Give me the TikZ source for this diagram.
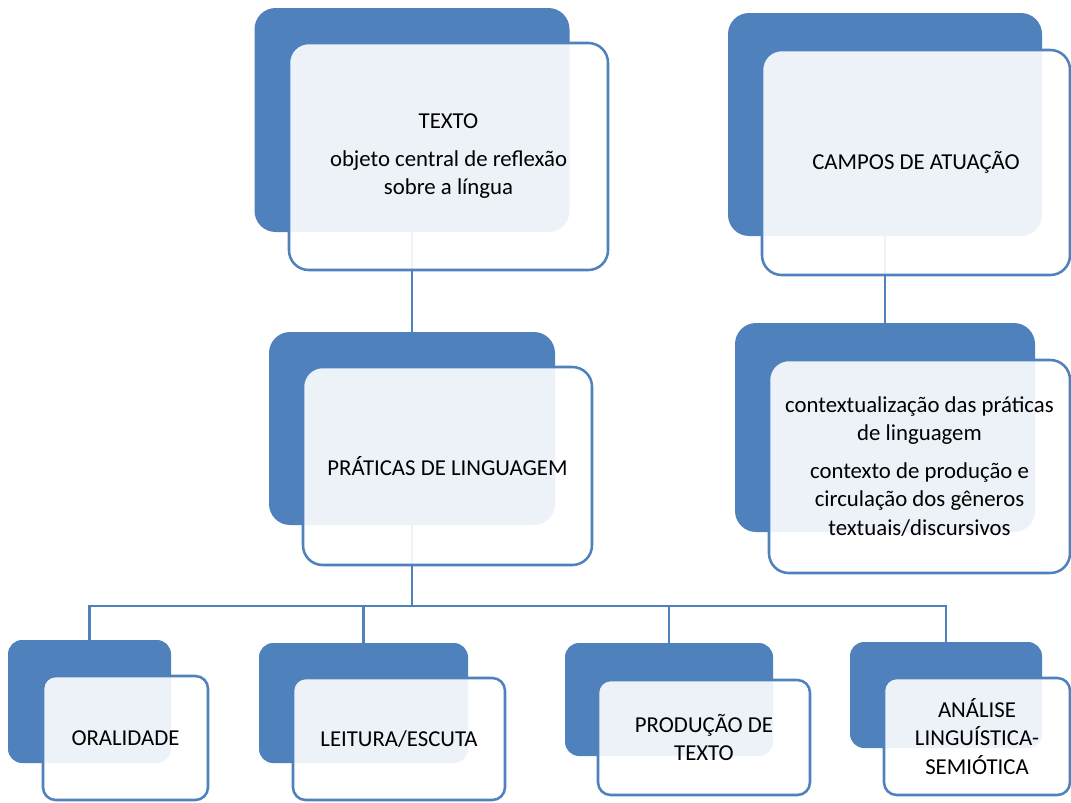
\documentclass[tikz,border=0pt]{standalone}
\usepackage{fontspec}
\setmainfont{Carlito}
\definecolor{azul}{HTML}{4F81BD}
\def\px{0.025cm}
\tikzset{
	fundo/.style={fill=azul, draw=none, rounded corners=15pt, inner sep=0pt, outer sep=0pt},
	frente/.style={fill=white, fill opacity=0.9, text opacity=1, draw=azul, line width=1.8pt, rounded corners=14pt, inner sep=0pt, outer sep=0pt, align=center, font=\fontsize{16.2}{20}\selectfont},
	liga/.style={draw=azul, line width=2pt}
}

\begin{document}
\begin{tikzpicture}[x=0.025cm, y=-0.025cm]
			%%%%% START %%%%%
			
			\useasboundingbox (0, 0) rectangle (1071, 802);
			
			\node[fundo, minimum width=315*\px, minimum height=224*\px] (textoF) at (412, 120) {};
			\node[fundo, minimum width=314*\px, minimum height=223*\px] (camposF) at (885, 124.5) {};
			\node[fundo, minimum width=286*\px, minimum height=193*\px] (praticasF) at (412, 428.5) {};
			\node[fundo, minimum width=300*\px, minimum height=209*\px] (contextoF) at (885, 427.5) {};
			
			\node[fundo, rounded corners=10pt, minimum width=163*\px, minimum height=123*\px] (oralF) at (89.5, 701.5) {};
			\node[fundo, rounded corners=10pt, minimum width=209*\px, minimum height=120*\px] (leituraF) at (363.5, 703) {};
			\node[fundo, rounded corners=10pt, minimum width=208*\px, minimum height=113*\px] (producaoF) at (669, 699.5) {};
			\node[fundo, rounded corners=10pt, minimum width=192*\px, minimum height=106*\px] (analiseF) at (946, 695) {};
			
			\coordinate (barra) at (412, 606);
			\draw[liga] (textoF.south) -- (praticasF.north);
			\draw[liga] (camposF.south) -- (contextoF.north);
			\draw[liga] (praticasF.south) -- (barra) -| (oralF.north);
			\draw[liga] (barra) -| (leituraF.north);
			\draw[liga] (barra) -| (producaoF.north);
			\draw[liga] (barra) -| (analiseF.north);
			
			\node[frente, minimum width=319*\px, minimum height=227*\px] (texto) at (448.5, 156.5) {TEXTO\\[7pt] objeto central de reflexão\\ sobre a língua};
			\node[frente, minimum width=308*\px, minimum height=225*\px] (campos) at (916, 162.5) {CAMPOS DE ATUAÇÃO};
			\node[frente, minimum width=289*\px, minimum height=198*\px] (praticas) at (447.5, 466) {PRÁTICAS DE LINGUAGEM};
			\node[frente, minimum width=301*\px, minimum height=213*\px] (contexto) at (919.5, 466.5) {contextualização das práticas\\ de linguagem\\[7pt] contexto de produção e\\ circulação dos gêneros\\ textuais/discursivos};
			
			\node[frente, rounded corners=9pt, minimum width=165*\px, minimum height=124*\px] (oral) at (125.5, 738) {ORALIDADE};
			\node[frente, rounded corners=9pt, minimum width=212*\px, minimum height=122*\px] (leitura) at (399, 739) {LEITURA/ESCUTA};
			\node[frente, rounded corners=9pt, minimum width=212*\px, minimum height=115*\px] (producao) at (704, 737.5) {PRODUÇÃO DE\\ TEXTO};
			\node[frente, rounded corners=9pt, minimum width=186*\px, minimum height=117*\px] (analise) at (977, 736.5) {ANÁLISE\\ LINGUÍSTICA-\\ SEMIÓTICA};
			
			%%%%% END %%%%%
\end{tikzpicture}
\end{document}
